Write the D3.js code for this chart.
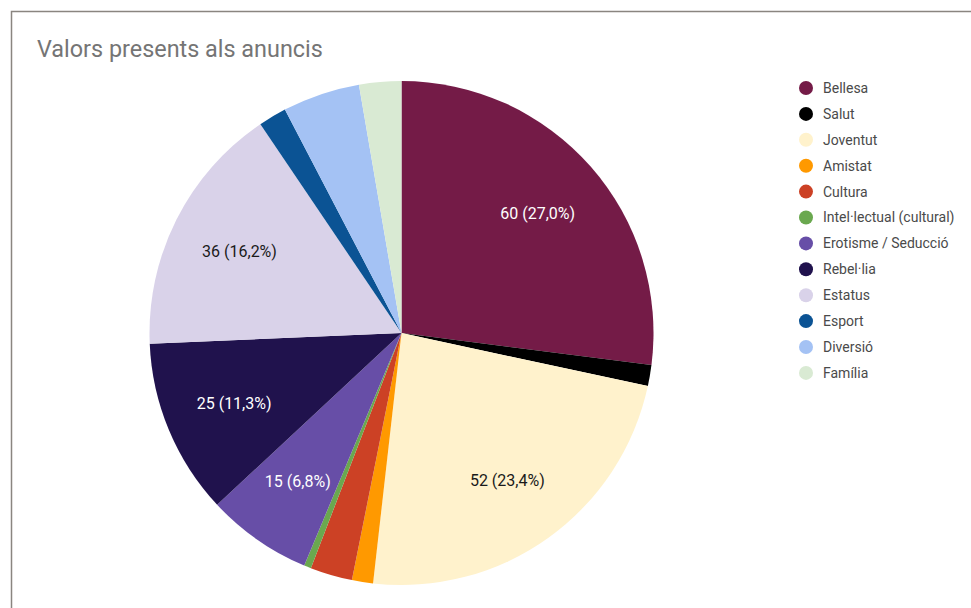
<!DOCTYPE html>
<html>
<head>
<meta charset="utf-8">
<script src="https://cdn.jsdelivr.net/npm/d3@7"></script>
<style>
  html, body { margin: 0; padding: 0; background: #fff; }
  svg { display: block; font-family: Roboto, "Noto Sans", Arial, sans-serif; }
</style>
</head>
<body>
<svg id="chart" width="971" height="608"></svg>
<script>
// Values mentioned in the ads (count of ads per value)
const categories = [
  "Bellesa", "Salut", "Joventut", "Amistat", "Cultura",
  "Intel·lectual (cultural)", "Erotisme / Seducció", "Rebel·lia",
  "Estatus", "Esport", "Diversió", "Família"
];
const values = [60, 3, 52, 3, 6, 1, 15, 25, 36, 4, 11, 6];
const colors = [
  "#741b47", "#000000", "#fff2cc", "#ff9900", "#cc4125",
  "#6aa84f", "#674ea7", "#20124d", "#d9d2e9", "#0b5394",
  "#a4c2f4", "#d9ead3"
];
const darkText = ["Joventut", "Estatus"];
const title = "Valors presents als anuncis";

const svg = d3.select("#chart");

// card frame
svg.append("rect")
  .attr("x", 11.5).attr("y", 11.5)
  .attr("width", 1000).attr("height", 700)
  .attr("fill", "#fff")
  .attr("stroke", "#8a8580")
  .attr("stroke-width", 1.5);

svg.append("text")
  .attr("x", 37).attr("y", 57)
  .attr("font-size", 23.4)
  .attr("fill", "#757575")
  .text(title);

const cx = 401.5, cy = 333, r = 252;
const total = d3.sum(values);
const data = categories.map((c, i) => ({ name: c, value: values[i], color: colors[i] }));

const pie = d3.pie().sort(null).value(d => d.value);
const arcs = pie(data);
const arc = d3.arc().innerRadius(0).outerRadius(r);
const labelArc = d3.arc().innerRadius(r * 0.72).outerRadius(r * 0.72);

const g = svg.append("g").attr("transform", `translate(${cx},${cy})`);

g.selectAll("path.slice")
  .data(arcs)
  .join("path")
  .attr("class", "slice")
  .attr("d", arc)
  .attr("fill", d => d.data.color);

const fmt = v => (v * 100).toFixed(1).replace(".", ",");

g.selectAll("text.pct")
  .data(arcs.filter(d => d.data.value / total >= 0.06))
  .join("text")
  .attr("class", "pct")
  .attr("transform", d => `translate(${labelArc.centroid(d)})`)
  .attr("text-anchor", "middle")
  .attr("dy", "0.35em")
  .attr("font-size", 16)
  .attr("fill", d => darkText.includes(d.data.name) ? "#1a1a1a" : "#fff")
  .text(d => `${d.data.value} (${fmt(d.data.value / total)}%)`);

// legend
const legend = svg.append("g").attr("transform", "translate(806,88)");
const step = 25.9;
const items = legend.selectAll("g.item")
  .data(data)
  .join("g")
  .attr("class", "item")
  .attr("transform", (d, i) => `translate(0,${i * step})`);

items.append("circle")
  .attr("r", 7)
  .attr("fill", d => d.color);

items.append("text")
  .attr("x", 17)
  .attr("dy", "0.35em")
  .attr("font-size", 14)
  .attr("fill", "#4a4a4a")
  .text(d => d.name);
</script>
</body>
</html>
